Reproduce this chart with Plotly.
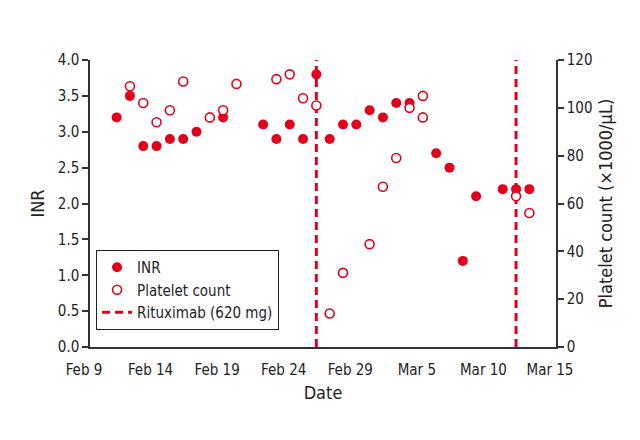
import plotly.graph_objects as go

RED = "#e3001b"
AXIS = "#333333"
FONT = "DejaVu Sans Condensed, Liberation Sans Narrow, sans-serif"

# INR measurements
inr_dates = ["2020-02-11", "2020-02-12", "2020-02-13", "2020-02-14", "2020-02-15",
             "2020-02-16", "2020-02-17", "2020-02-19", "2020-02-22", "2020-02-23",
             "2020-02-24", "2020-02-25", "2020-02-26", "2020-02-27", "2020-02-28",
             "2020-02-29", "2020-03-01", "2020-03-02", "2020-03-03", "2020-03-04",
             "2020-03-06", "2020-03-07", "2020-03-08", "2020-03-09", "2020-03-11",
             "2020-03-12", "2020-03-13"]
inr_values = [3.2, 3.5, 2.8, 2.8, 2.9, 2.9, 3.0, 3.2, 3.1, 2.9,
              3.1, 2.9, 3.8, 2.9, 3.1, 3.1, 3.3, 3.2, 3.4, 3.4,
              2.7, 2.5, 1.2, 2.1, 2.2, 2.2, 2.2]

# Platelet counts (x1000/uL)
plt_dates = ["2020-02-12", "2020-02-13", "2020-02-14", "2020-02-15", "2020-02-16",
             "2020-02-18", "2020-02-19", "2020-02-20", "2020-02-23", "2020-02-24",
             "2020-02-25", "2020-02-26", "2020-02-27", "2020-02-28", "2020-03-01",
             "2020-03-02", "2020-03-03", "2020-03-04", "2020-03-05", "2020-03-05",
             "2020-03-12", "2020-03-13"]
plt_values = [109, 102, 94, 99, 111, 96, 99, 110, 112, 114,
              104, 101, 14, 31, 43, 67, 79, 100, 105, 96,
              63, 56]

# Rituximab administrations
rituximab_dates = ["2020-02-26", "2020-03-12"]
rituximab_label = "Rituximab (620 mg)"

tick_dates = ["2020-02-09", "2020-02-14", "2020-02-19", "2020-02-24", "2020-02-29",
              "2020-03-05", "2020-03-10", "2020-03-15"]
tick_labels = ["Feb 9", "Feb 14", "Feb 19", "Feb 24", "Feb 29",
               "Mar 5", "Mar 10", "Mar 15"]

fig = go.Figure()

for i, d in enumerate(rituximab_dates):
    fig.add_trace(go.Scatter(
        x=[d, d], y=[0, 4], mode="lines", name=rituximab_label,
        line=dict(color=RED, width=3, dash="8px,5px"),
        showlegend=(i == 0), legendrank=3, yaxis="y"))

fig.add_trace(go.Scatter(
    x=inr_dates, y=inr_values, mode="markers", name="INR",
    marker=dict(color=RED, size=10, line=dict(width=0)),
    legendrank=1, yaxis="y"))

fig.add_trace(go.Scatter(
    x=plt_dates, y=plt_values, mode="markers", name="Platelet count",
    marker=dict(color="white", size=9, line=dict(color=RED, width=1.6)),
    legendrank=2, yaxis="y2"))

fig.update_layout(
    width=640, height=440,
    margin=dict(l=82, r=92, t=52, b=101),
    paper_bgcolor="white", plot_bgcolor="white",
    font=dict(family=FONT, size=15, color="#222222"),
    xaxis=dict(
        type="date", range=["2020-02-09", "2020-03-15"],
        tickvals=tick_dates, ticktext=tick_labels, automargin=False,
        ticklabelshift=-6, ticklabelstandoff=8,
        showgrid=False, zeroline=False, showline=True,
        linecolor=AXIS, linewidth=1.5, ticks="",
        title=dict(text="Date", standoff=9)),
    yaxis=dict(
        range=[0, 4], dtick=0.5, tickformat=".1f", automargin=False,
        showgrid=False, zeroline=False, showline=True,
        linecolor=AXIS, linewidth=1.5, ticks="outside",
        ticklen=6, tickwidth=1.5, tickcolor=AXIS,
        title=dict(text="INR", standoff=8)),
    yaxis2=dict(
        range=[0, 120], dtick=20, overlaying="y", side="right", anchor="x",
        automargin=False,
        showgrid=False, zeroline=False, showline=True,
        linecolor=AXIS, linewidth=1.5, ticks="outside",
        ticklen=6, tickwidth=1.5, tickcolor=AXIS,
        title=dict(text="Platelet count (×1000/μL)", standoff=8)),
    legend=dict(
        x=0.013, y=0.338, xanchor="left", yanchor="top",
        bgcolor="white", bordercolor="#222222", borderwidth=1,
        font=dict(size=15), tracegroupgap=0, itemwidth=30),
)

fig.write_html("out.html")
